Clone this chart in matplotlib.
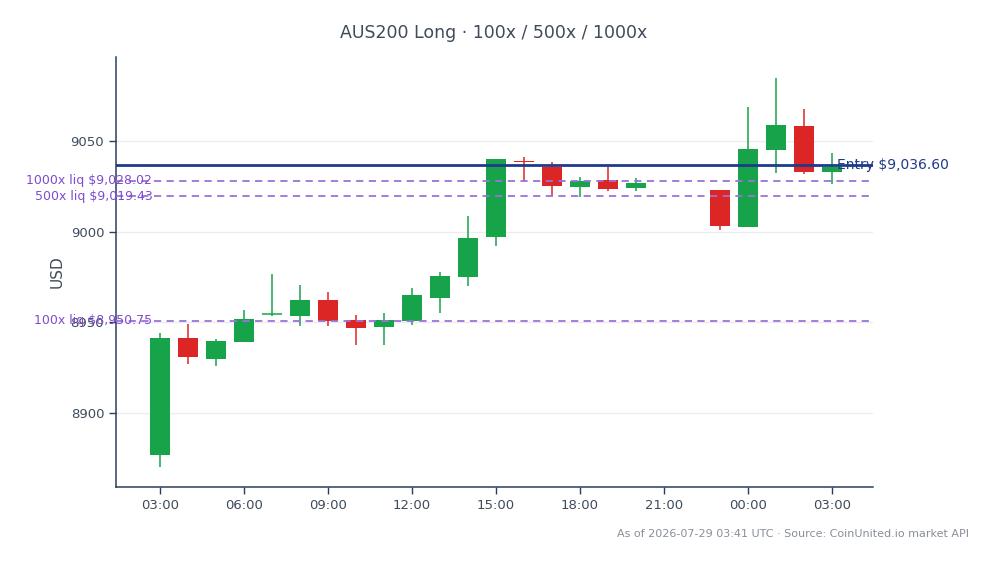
import numpy as np
import matplotlib.pyplot as plt
import matplotlib.transforms as mtransforms

# hourly candles, hours counted from 2026-07-28 03:00 UTC
hours = [0, 1, 2, 3, 4, 5, 6, 7, 8, 9, 10, 11, 12, 13, 14, 15, 16, 17, 20, 21, 22, 23, 24]
opens = [8876.6, 8941.6, 8929.8, 8939.2, 8954.2, 8953.5, 8962.1, 8951.1, 8947.4, 8950.5,
         8963.4, 8974.9, 8996.9, 9039.0, 9035.7, 9024.4, 9028.4, 9023.8,
         9023.1, 9002.4, 9044.9, 9058.2, 9033.1]
highs = [8944.1, 8948.9, 8941.0, 8956.6, 8976.4, 8970.5, 8966.5, 8953.8, 8955.4, 8968.7,
         8978.0, 9008.6, 9039.9, 9041.4, 9038.6, 9029.9, 9035.7, 9029.3,
         9023.1, 9068.9, 9084.8, 9067.4, 9043.4]
lows = [8870.0, 8926.9, 8926.0, 8939.2, 8953.3, 8947.8, 8947.8, 8937.4, 8937.4, 8948.4,
        8955.1, 8970.3, 8992.3, 9028.0, 9019.8, 9019.2, 9022.5, 9022.5,
        9000.7, 9002.4, 9032.1, 9031.7, 9026.2]
closes = [8941.6, 8931.0, 8939.6, 8951.6, 8954.4, 8962.1, 8950.7, 8946.9, 8951.5, 8964.8,
          8975.8, 8996.5, 9039.9, 9038.3, 9024.9, 9027.7, 9023.3, 9026.9,
          9003.1, 9045.6, 9058.8, 9033.1, 9035.7]

entry = 9036.60
liq_levels = [9028.02, 9019.43, 8950.75]
liq_labels = ['1000x liq $9,028.02', '500x liq $9,019.43', '100x liq $8,950.75']

tick_hours = [0, 3, 6, 9, 12, 15, 18, 21, 24]
tick_labels = ['03:00', '06:00', '09:00', '12:00', '15:00', '18:00', '21:00', '00:00', '03:00']
y_ticks = [8900, 8950, 9000, 9050]

green = '#16a34a'
red = '#dc2626'
text_col = '#3f4b5b'

fig = plt.figure(figsize=(9.93, 5.64), dpi=100)
ax = fig.add_axes([0.1168, 0.1365, 0.7623, 0.7625])

w = 0.72
for h, o, hi, lo, c in zip(hours, opens, highs, lows, closes):
    col = green if c >= o else red
    ax.vlines(h, lo, hi, color=col, linewidth=1.1, zorder=3)
    body = abs(c - o)
    if body < 0.4:
        ax.hlines(c, h - w / 2, h + w / 2, color=col, linewidth=1.1, zorder=3)
    else:
        ax.bar(h, body, bottom=min(o, c), width=w, color=col, zorder=3)

ax.axhline(entry, color='#1e3a8a', linewidth=2, zorder=4)
ax.text(24.18, entry, 'Entry $9,036.60', color='#1e3a8a', fontsize=10,
        va='center', ha='left', zorder=6, clip_on=False)

trans = mtransforms.blended_transform_factory(ax.transAxes, ax.transData)
for lvl, lab in zip(liq_levels, liq_labels):
    ax.axhline(lvl, color='#9b72d9', linewidth=1.3, linestyle=(0, (4, 3)), zorder=4)
    ax.text(0.048, lvl, lab, transform=trans, color='#7e4bd1', fontsize=9,
            va='center', ha='right', zorder=6, clip_on=False)

ax.set_xlim(-1.57, 25.46)
ax.set_ylim(8859.2, 9096.3)
ax.set_xticks(tick_hours)
ax.set_xticklabels(tick_labels)
ax.set_yticks(y_ticks)
ax.grid(axis='y', color='#ebedf0', linewidth=1, zorder=0)
ax.set_axisbelow(True)

for s in ['top', 'right']:
    ax.spines[s].set_visible(False)
for s in ['left', 'bottom']:
    ax.spines[s].set_color('#2a3f5f')
    ax.spines[s].set_linewidth(1.1)
ax.tick_params(axis='both', colors='#2a3f5f', labelcolor=text_col, labelsize=9.5,
               length=5, width=1)
ax.set_ylabel('USD', color=text_col, fontsize=11, labelpad=4)

fig.suptitle('AUS200 Long · 100x / 500x / 1000x', x=0.497, y=0.957, fontsize=12.5,
             color=text_col)
fig.text(0.976, 0.053, 'As of 2026-07-29 03:41 UTC · Source: CoinUnited.io market API',
         ha='right', va='center', fontsize=8, color='#888f99')

fig.savefig('out.png', dpi=100)
